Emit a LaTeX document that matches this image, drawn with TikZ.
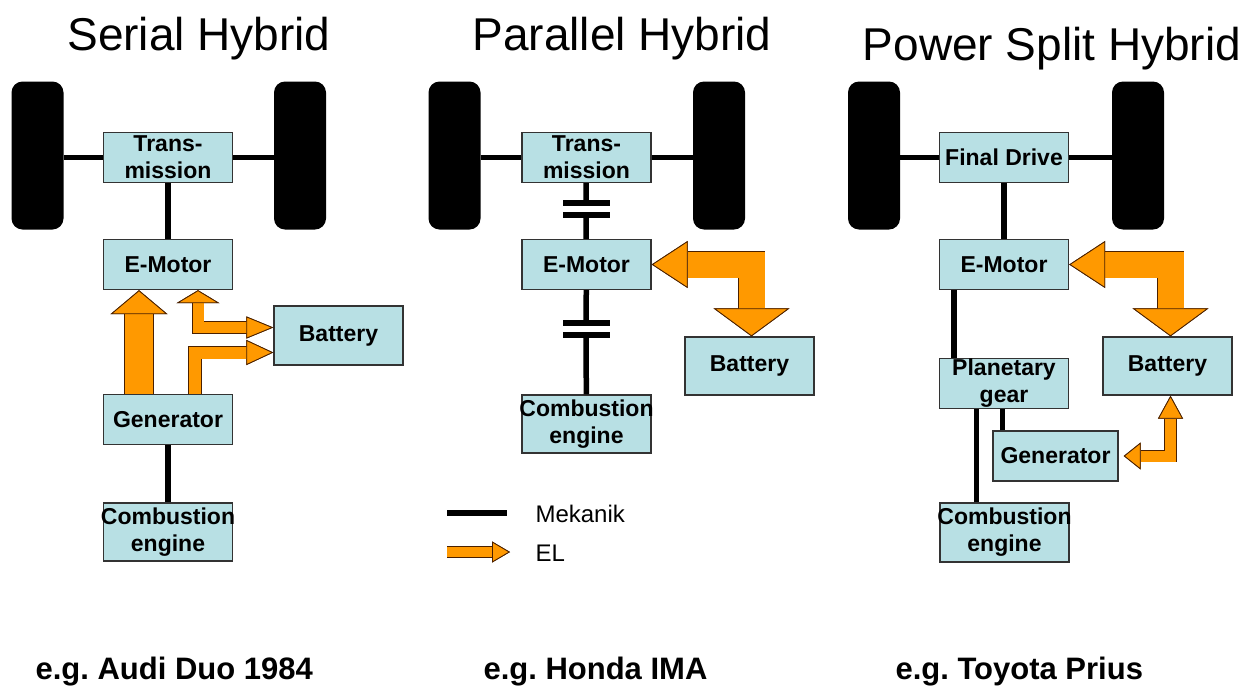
\documentclass[tikz,border=0pt]{standalone}
\usepackage{fontspec}
\setmainfont{Liberation Sans}
\usetikzlibrary{arrows.meta, positioning, calc}
\definecolor{cbox}{HTML}{B8E0E4}
\definecolor{cedge}{HTML}{333333}
\definecolor{corange}{HTML}{FF9900}
\definecolor{cdark}{HTML}{4A2000}
\tikzset{
  part/.style={draw=cedge, fill=cbox, line width=1.4pt, align=center, inner xsep=-4pt, inner ysep=0pt,
    minimum width=129pt, minimum height=#1, font=\fontsize{23}{27}\selectfont\bfseries},
  part/.default=50pt,
  wheel/.style={fill=black, rounded corners=11pt, inner sep=0pt, minimum width=52pt, minimum height=148pt},
  clutch/.style={fill=black, inner sep=0pt, minimum width=47pt, minimum height=6pt},
  mech/.style={draw=black, line width=5.5pt},
  Head/.tip={Triangle[fill=corange, color=cdark, line width=0.8pt]},
  el/.style={draw=corange, line width=#1, line join=miter,
    preaction={draw=cdark, line width=#1+1.6pt}},
  title/.style={font=\fontsize{46}{50}\selectfont, anchor=base},
  example/.style={font=\fontsize{31}{34}\selectfont\bfseries, anchor=base west},
  legend/.style={font=\fontsize{24}{28}\selectfont, anchor=base west},
}
\begin{document}
\frenchspacing
\begin{tikzpicture}[x=1pt, y=-1pt]
  \useasboundingbox (0,0) rectangle (1249,686);

  % serial hybrid
  \node[title] (t1) at (199,50) {Serial Hybrid};
  \node[wheel] (wl1) at (37.5,155.5) {};
  \node[wheel] (wr1) at (300,155.5) {};
  \node[part] (tr1) at (168,157.5) {Trans-\\mission};
  \node[part] (em1) at (168,264.5) {E-Motor};
  \node[part=59pt] (bat1) at (338.5,335.5) {Battery};
  \node[part] (gen1) at (168,419.5) {Generator};
  \node[part=58pt] (ce1) at (168,532) {Combustion\\engine};
  \draw[mech] (wl1.east |- tr1) -- (tr1);
  \draw[mech] (tr1) -- (wr1.west |- tr1);
  \draw[mech] (tr1) -- (em1);
  \draw[mech] (gen1) -- (ce1);
  \draw[el=28pt, -{Head[length=24pt, width=57pt]}] ([xshift=-29pt]gen1.north) -- ([xshift=-29pt]em1.south);
  \draw[el=11pt, {Head[length=13pt, width=43pt]}-{Head[length=27pt, width=22pt]}] ([xshift=30pt]em1.south) |- ([yshift=8pt]bat1.west);
  \draw[el=12pt, -{Head[length=27pt, width=25pt]}] ([xshift=27pt]gen1.north) |- ([yshift=-17pt]bat1.west);

  % parallel hybrid
  \node[title] (t2) at (622,50) {Parallel Hybrid};
  \node[wheel] (wl2) at (454.5,155.5) {};
  \node[wheel] (wr2) at (719,155.5) {};
  \node[part] (tr2) at (586.5,157.5) {Trans-\\mission};
  \node[part] (em2) at (586.5,264.5) {E-Motor};
  \node[part=58pt] (bat2) at (749.5,366) {Battery};
  \node[part=58pt] (ce2) at (586.5,424) {Combustion\\engine};
  \node[clutch] (cl1) at (586,203) {};
  \node[clutch] (cl2) at (586,215) {};
  \node[clutch] (cl3) at (586,323) {};
  \node[clutch] (cl4) at (586,335) {};
  \draw[mech] (wl2.east |- tr2) -- (tr2);
  \draw[mech] (tr2) -- (wr2.west |- tr2);
  \draw[mech] (tr2) -- (cl1);
  \draw[mech] (cl2) -- (em2);
  \draw[mech] (em2) -- (cl3);
  \draw[mech] (cl4) -- (ce2);
  \draw[el=26pt, {Head[length=36pt, width=47pt]}-{Head[length=28pt, width=76pt]}] (em2.east) -| ([xshift=2pt]bat2.north);

  % power split hybrid
  \node[title] (t3) at (1052,60) {Power Split Hybrid};
  \node[wheel] (wl3) at (874,155.5) {};
  \node[wheel] (wr3) at (1138,155.5) {};
  \node[part] (fd3) at (1004,157.5) {Final Drive};
  \node[part] (em3) at (1004,264.5) {E-Motor};
  \node[part=58pt] (bat3) at (1167.5,366) {Battery};
  \node[part] (pg3) at (1004,383.5) {Planetary\\gear};
  \node[part, minimum width=125pt] (gen3) at (1055.5,456) {Generator};
  \node[part=59pt] (ce3) at (1004.5,532.5) {Combustion\\engine};
  \coordinate (ep) at ([xshift=15pt]em3.south west);
  \coordinate (gp) at ([xshift=10pt]gen3.north west);
  \coordinate (cp) at ([xshift=37pt]ce3.north west);
  \draw[mech] (wl3.east |- fd3) -- (fd3);
  \draw[mech] (fd3) -- (wr3.west |- fd3);
  \draw[mech] (fd3) -- (em3);
  \draw[mech] (ep) -- (ep |- pg3.north);
  \draw[mech] (gp) -- (gp |- pg3.south);
  \draw[mech] (cp) -- (cp |- pg3.south);
  \draw[el=26pt, {Head[length=36pt, width=47pt]}-{Head[length=28pt, width=76pt]}] (em3.east) -| ([xshift=3pt]bat3.north);
  \draw[el=11pt, {Head[length=17pt, width=27pt]}-{Head[length=23pt, width=25pt]}] ([xshift=5pt]gen3.east) -| ([xshift=3pt]bat3.south);

  % legend
  \node[legend] (mk) at (532,522) {Mekanik};
  \node[legend] (elt) at (532,561) {EL};
  \coordinate (lm) at (447,513);
  \coordinate (lme) at (507,513);
  \coordinate (le) at (447,552);
  \coordinate (lee) at (510,552);
  \draw[mech] (lm) -- (lme);
  \draw[el=10pt, -{Head[length=18pt, width=21pt]}] (le) -- (lee);

  % examples
  \node[example] (ex1) at (32,679) {e.g. Audi Duo 1984};
  \node[example] (ex2) at (480,679) {e.g. Honda IMA};
  \node[example] (ex3) at (892,679) {e.g. Toyota Prius};
\end{tikzpicture}
\end{document}
